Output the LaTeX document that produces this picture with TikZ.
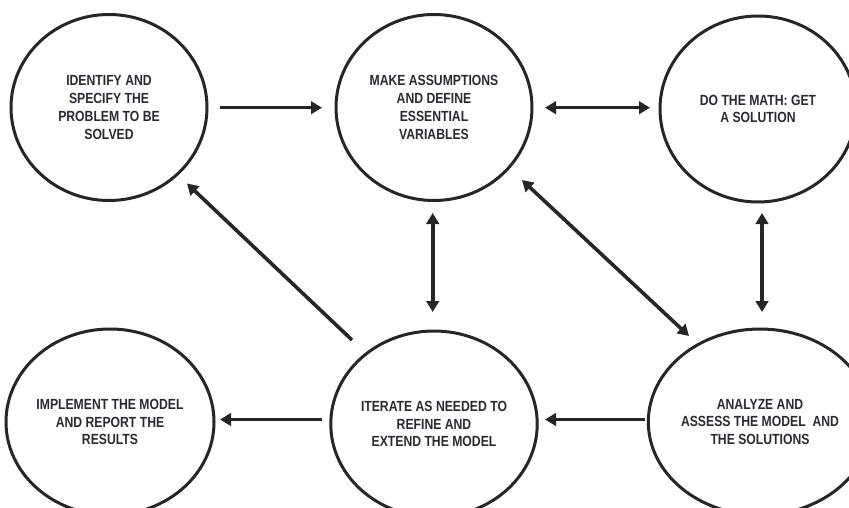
\documentclass[tikz,border=0pt]{standalone}
\usepackage{fontspec}
\setmainfont{Liberation Sans}[FakeStretch=0.83]
\usetikzlibrary{shapes.geometric,arrows.meta}
\definecolor{ink}{HTML}{262626}
\definecolor{txt}{HTML}{2A2A33}
\begin{document}
\begin{tikzpicture}[x=1pt,y=-1pt,
  stage/.style={ellipse,draw=ink,line width=3pt,minimum width=196pt,minimum height=186pt,inner sep=0pt,
    align=center,text=txt,font=\bfseries\fontsize{14.7pt}{17.8pt}\selectfont},
  conn/.style={draw=ink,line width=3.6pt,-{Triangle[length=11pt,width=12.5pt]}},
  biconn/.style={draw=ink,line width=3.6pt,{Triangle[length=11pt,width=12.5pt]}-{Triangle[length=11pt,width=12.5pt]}}]
\useasboundingbox (0,0) rectangle (849,508);
\node[stage] (tl) at (109,107.5) {IDENTIFY AND\\SPECIFY THE\\PROBLEM TO BE\\SOLVED};
\node[stage] (tm) at (434,107.5) {MAKE ASSUMPTIONS\\AND DEFINE\\ESSENTIAL\\VARIABLES};
\node[stage] (tr) at (758,109) {DO THE MATH: GET\\A SOLUTION};
\node[stage] (bl) at (110,422) {IMPLEMENT THE MODEL\\AND REPORT THE\\RESULTS};
\node[stage] (bm) at (434,424) {ITERATE AS NEEDED TO\\REFINE AND\\EXTEND THE MODEL};
\node[stage] (br) at (760,422) {ANALYZE AND\\ASSESS THE MODEL\ \ AND\\THE SOLUTIONS};
% arrow end points
\coordinate (a1s) at (220,107.7); \coordinate (a1e) at (322,107.7);
\coordinate (a2s) at (545,107.7); \coordinate (a2e) at (650,107.7);
\coordinate (a3s) at (432.7,213); \coordinate (a3e) at (432.7,312);
\coordinate (a4s) at (762,213); \coordinate (a4e) at (762,312);
\coordinate (a5s) at (522,180); \coordinate (a5e) at (689,336);
\coordinate (a6s) at (352,340); \coordinate (a6e) at (187,183.5);
\coordinate (a7s) at (645,419.5); \coordinate (a7e) at (545,419.5);
\coordinate (a8s) at (322,419.5); \coordinate (a8e) at (220,419.5);
\draw[conn] (a1s) -- (a1e);
\draw[biconn] (a2s) -- (a2e);
\draw[biconn] (a3s) -- (a3e);
\draw[biconn] (a4s) -- (a4e);
\draw[biconn] (a5s) -- (a5e);
\draw[conn] (a6s) -- (a6e);
\draw[conn] (a7s) -- (a7e);
\draw[conn] (a8s) -- (a8e);
\end{tikzpicture}
\end{document}
